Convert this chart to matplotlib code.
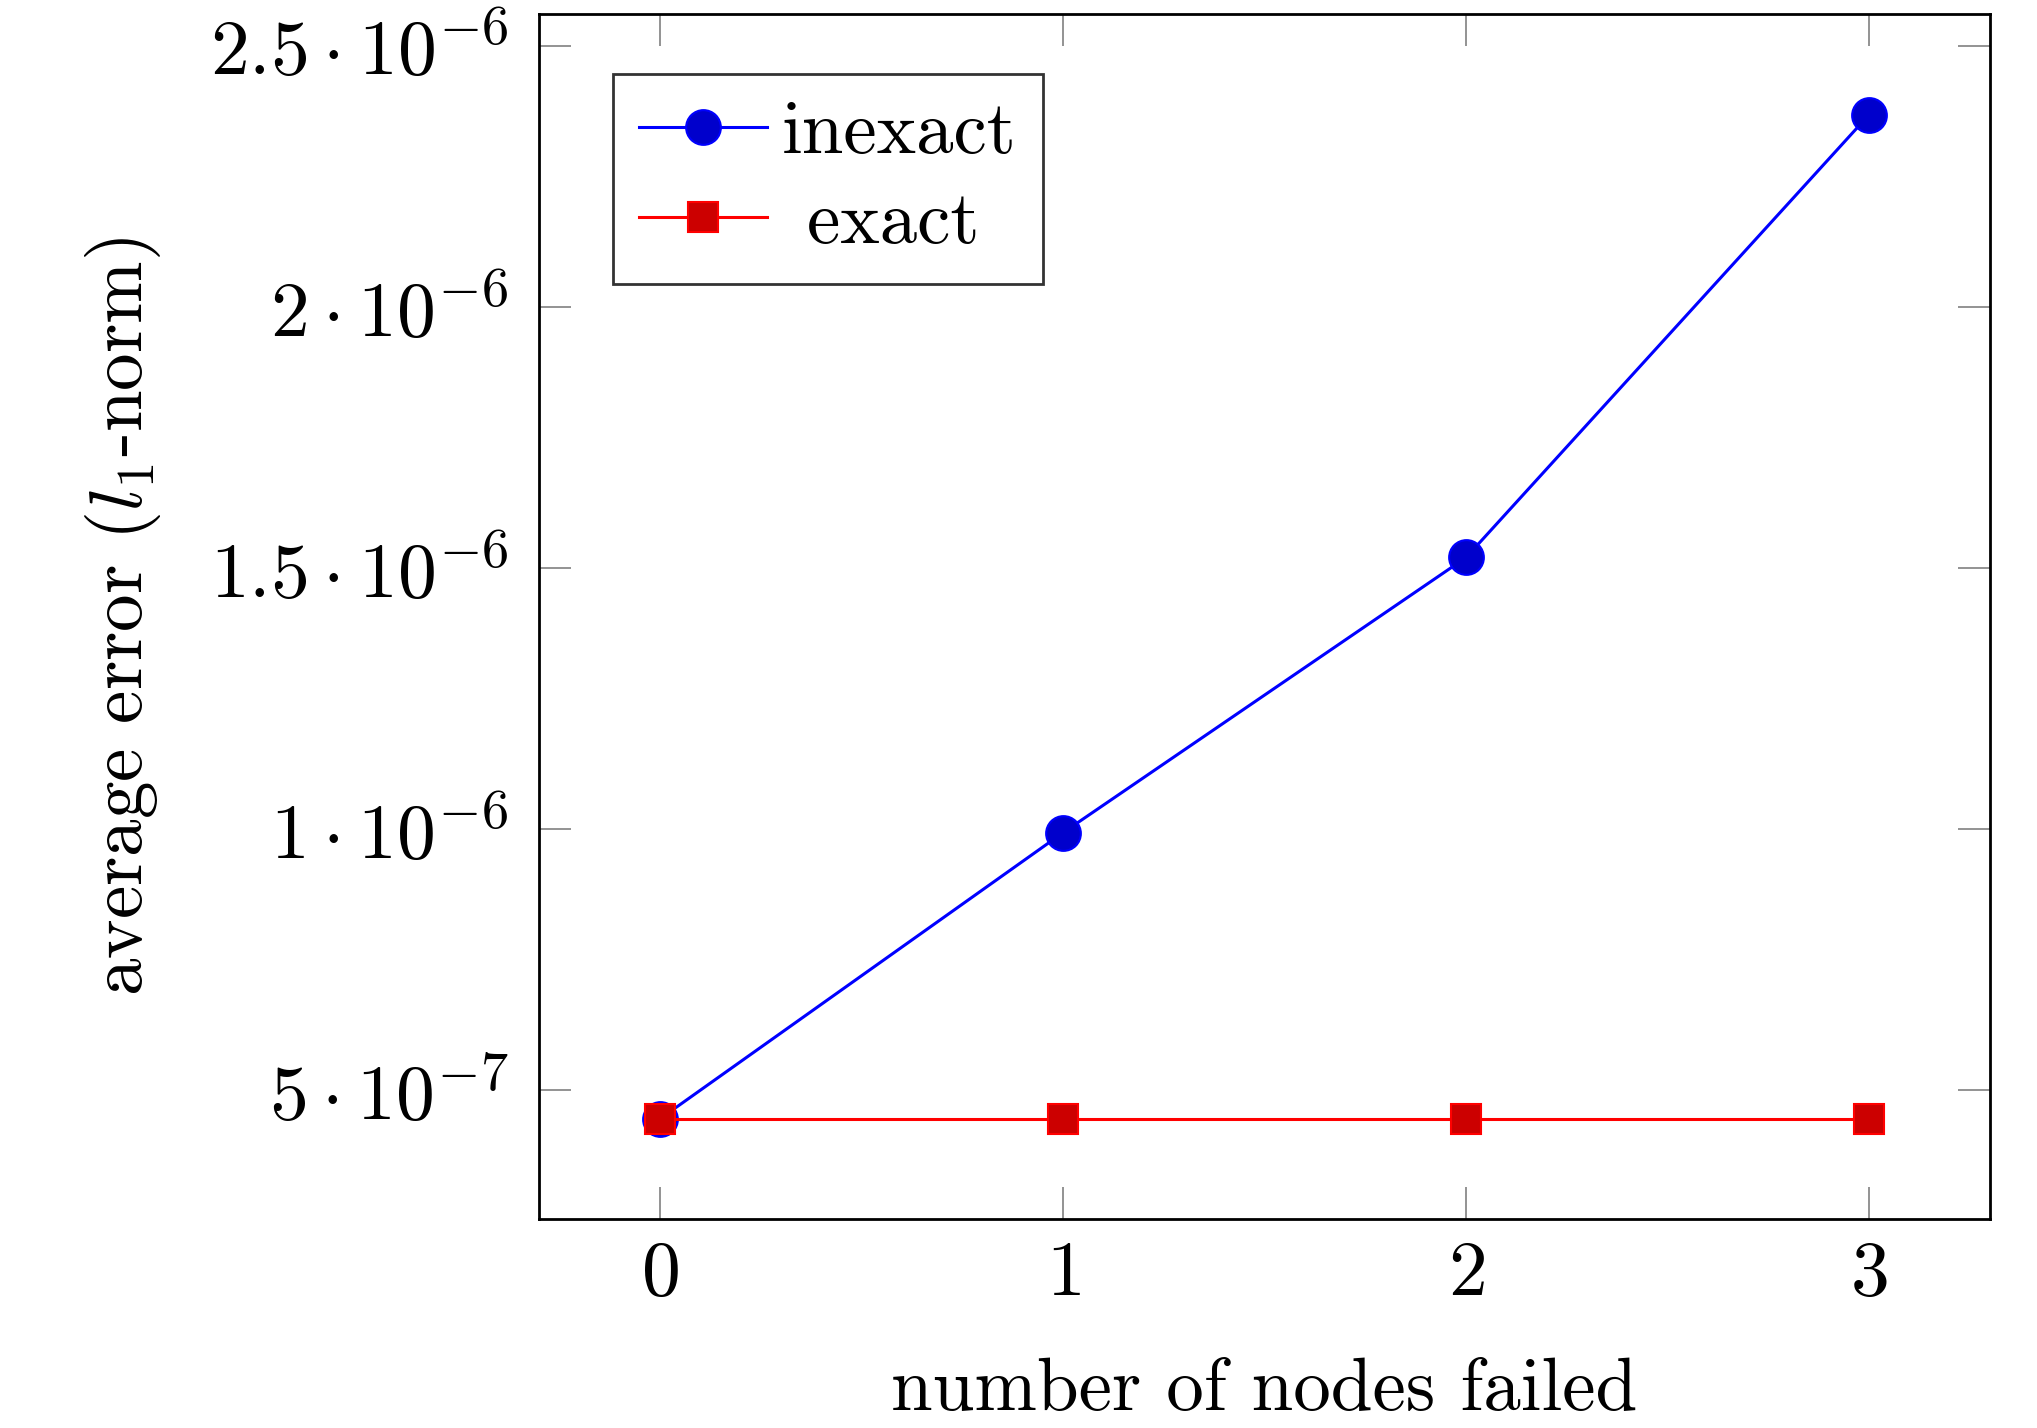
import matplotlib
matplotlib.use("Agg")
import matplotlib.pyplot as plt

# data
nodes_failed = [0, 1, 2, 3]
inexact = [4.45e-7, 0.993e-6, 1.52e-6, 2.368e-6]
exact = [4.45e-7, 4.45e-7, 4.45e-7, 4.45e-7]

xticks = [0, 1, 2, 3]
yticks = [5e-7, 1e-6, 1.5e-6, 2e-6, 2.5e-6]
ytick_labels = [r'$5\cdot10^{-7}$', r'$1\cdot10^{-6}$', r'$1.5\cdot10^{-6}$',
                r'$2\cdot10^{-6}$', r'$2.5\cdot10^{-6}$']

plt.rcParams['font.family'] = 'cmr10'
plt.rcParams['mathtext.fontset'] = 'cm'
plt.rcParams['axes.unicode_minus'] = False

fig = plt.figure(figsize=(20.37, 14.28), dpi=100)
ax = fig.add_axes([0.2646, 0.1466, 0.7124, 0.8434])

ax.plot(nodes_failed, inexact, color='blue', lw=2.2, marker='o', ms=25,
        mfc='#0000cc', mec='blue', mew=1.5, label='inexact', zorder=3)
ax.plot(nodes_failed, exact, color='red', lw=2.2, marker='s', ms=22,
        mfc='#cc0000', mec='red', mew=1.5, label=' exact', zorder=4)

ax.set_xlim(-0.3, 3.3)
ax.set_ylim(2.54e-7, 2.56e-6)
ax.set_xticks(xticks)
ax.set_xticklabels([f'${t}$' for t in xticks])
ax.set_yticks(yticks)
ax.set_yticklabels(ytick_labels)

ax.tick_params(axis='x', pad=16)
ax.tick_params(axis='y', pad=22)
ax.tick_params(direction='in', length=23, width=1.2, color='#808080',
               top=True, right=True, labelsize=56)
for s in ax.spines.values():
    s.set_linewidth(2)

ax.set_xlabel('number of nodes failed', fontsize=54, labelpad=34)
ax.set_ylabel(r'average error ($l_1$-norm)', fontsize=54, labelpad=34)

leg = ax.legend(loc='upper left', bbox_to_anchor=(0.051, 0.95), fontsize=54,
                frameon=True, fancybox=False, edgecolor='black',
                handlelength=1.7, handletextpad=0.2, borderpad=0.35,
                labelspacing=0.3, borderaxespad=0)
leg.get_frame().set_linewidth(2)

fig.savefig('out.png', dpi=100)
